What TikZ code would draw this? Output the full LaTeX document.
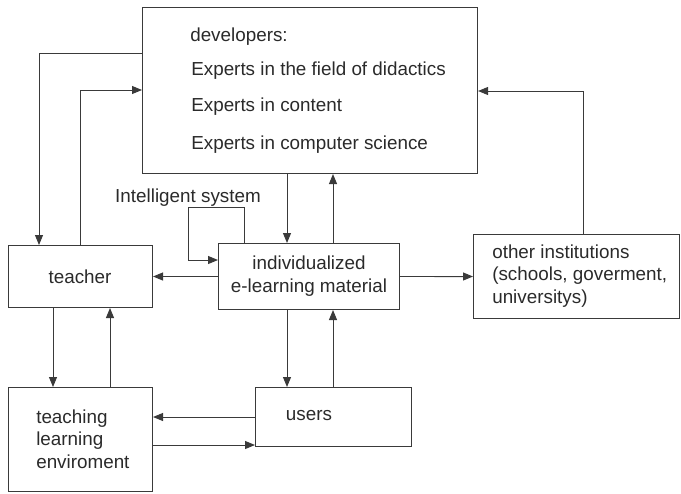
\documentclass[tikz,border=0pt]{standalone}
\usepackage{fontspec}
\setmainfont{Liberation Sans}
\usetikzlibrary{arrows.meta}
\definecolor{LineGrey}{HTML}{3A3A3A}
\definecolor{TextGrey}{HTML}{2A2A2A}

\tikzset{
  block/.style={draw=LineGrey, line width=0.7pt, anchor=north west, inner sep=0pt},
  label/.style={text=TextGrey, font=\fontsize{13.4}{16}\selectfont, inner sep=0pt},
  arr/.style={draw=LineGrey, line width=0.7pt, -{Triangle[length=0.25cm,width=0.2cm]}}
}

\begin{document}
\begin{tikzpicture}[x=0.025cm,y=-0.025cm]
        \useasboundingbox (0,0) rectangle (681,493);
        % boxes
        \node[block, minimum width=8.375cm, minimum height=4.15cm] (dev) at (142,7) {};
        \node[block, minimum width=3.6cm, minimum height=1.55cm] (teacher) at (8,245) {};
        \node[block, minimum width=4.525cm, minimum height=1.65cm] (indiv) at (218,243) {};
        \node[block, minimum width=5.15cm, minimum height=2.1cm] (other) at (473,234) {};
        \node[block, minimum width=3.6cm, minimum height=2.6cm] (tle) at (8,387) {};
        \node[block, minimum width=3.9cm, minimum height=1.475cm] (users) at (255,387) {};
        % texts
        \node[label, anchor=west] (devtitle) at (190,37) {developers:};
        \node[label, anchor=west] (didactics) at (191,71) {Experts in the field of didactics};
        \node[label, anchor=west] (content) at (191,107) {Experts in content};
        \node[label, anchor=west] (compsci) at (191,145) {Experts in computer science};
        \node[label] (teachertxt) at (80,277) {teacher};
        \node[label, align=center] (indivtxt) at (309,276) {individualized\\e-learning material};
        \node[label, align=left, anchor=west] (othertxt) at (492,276) {other institutions\\(schools, goverment,\\universitys)};
        \node[label, align=left, anchor=west] (tletxt) at (36,439) {teaching\\learning\\enviroment};
        \node[label] (userstxt) at (309,416) {users};
        \node[label] (intsys) at (188,198) {Intelligent system};
        % connectors
        \draw[arr] (dev.west |- 0,53) -| (teacher.north -| 39,0);
        \draw[arr] (teacher.north -| 80,0) |- (dev.west |- 0,90);
        \draw[arr] (dev.south -| 287,0) -- (indiv.north -| 287,0);
        \draw[arr] (indiv.north -| 333,0) -- (dev.south -| 333,0);
        \draw[arr] (indiv.north -| 244,0) |- (188,207) |- (indiv.west |- 0,260);
        \draw[arr] (indiv.west) -- (teacher.east);
        \draw[arr] (indiv.east) -- (other.west);
        \draw[arr] (other.north -| 583,0) |- (dev.east |- 0,91);
        \draw[arr] (indiv.south -| 287,0) -- (users.north -| 287,0);
        \draw[arr] (users.north -| 333,0) -- (indiv.south -| 333,0);
        \draw[arr] (teacher.south -| 53,0) -- (tle.north -| 53,0);
        \draw[arr] (tle.north -| 110,0) -- (teacher.south -| 110,0);
        \draw[arr] (users.west |- 0,417) -- (tle.east |- 0,417);
        \draw[arr] (tle.east |- 0,445) -- (users.west |- 0,445);
      \end{tikzpicture}
\end{document}
